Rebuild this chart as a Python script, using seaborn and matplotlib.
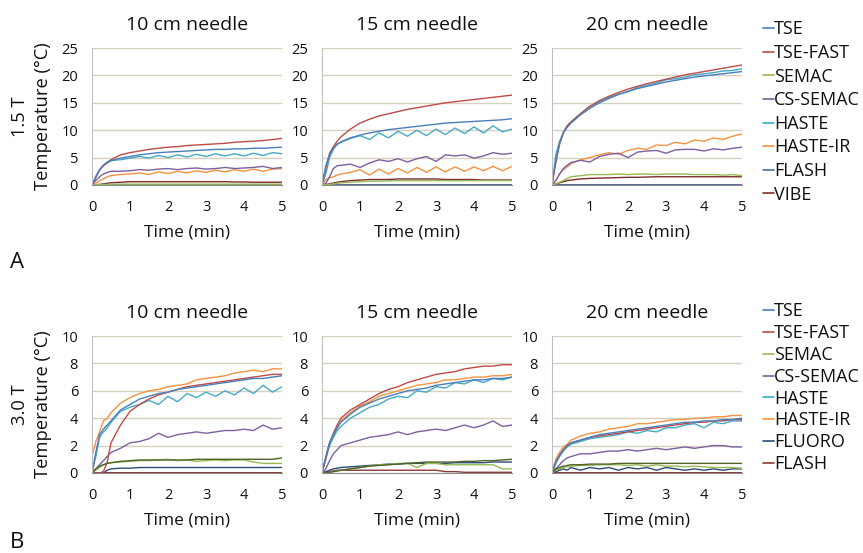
import numpy as np
import pandas as pd
import matplotlib
matplotlib.use("Agg")
import matplotlib.pyplot as plt
from matplotlib.lines import Line2D
import seaborn as sns

# ===============================
# DATA
# ===============================

time_min = [0, 0.1, 0.2, 0.3, 0.4, 0.5, 0.75, 1, 1.25, 1.5, 1.75, 2, 2.25, 2.5,
            2.75, 3, 3.25, 3.5, 3.75, 4, 4.25, 4.5, 4.75, 5]

needles = ["10 cm needle", "15 cm needle", "20 cm needle"]

seq_15T = ["TSE", "TSE-FAST", "SEMAC", "CS-SEMAC", "HASTE", "HASTE-IR", "FLASH", "VIBE"]
seq_30T = ["TSE", "TSE-FAST", "SEMAC", "CS-SEMAC", "HASTE", "HASTE-IR", "FLUORO", "FLASH"]

# 1.5 T, 10 cm
t15_10 = {
    "TSE":      [0, 1.5, 2.8, 3.6, 4.1, 4.4, 4.9, 5.2, 5.5, 5.7, 5.9, 6.0, 6.1, 6.2, 6.3, 6.4, 6.5, 6.5, 6.6, 6.6, 6.7, 6.7, 6.8, 6.9],
    "TSE-FAST": [0, 1.4, 2.7, 3.5, 4.0, 4.6, 5.5, 5.9, 6.2, 6.5, 6.7, 6.9, 7.0, 7.2, 7.3, 7.4, 7.5, 7.6, 7.8, 7.9, 8.0, 8.1, 8.3, 8.5],
    "SEMAC":    [0, 0.02, 0.05, 0.08, 0.1, 0.12, 0.15, 0.15, 0.15, 0.15, 0.15, 0.15, 0.15, 0.15, 0.15, 0.15, 0.15, 0.15, 0.15, 0.15, 0.15, 0.15, 0.15, 0.15],
    "CS-SEMAC": [0, 0.8, 1.5, 2.0, 2.3, 2.5, 2.5, 2.6, 2.8, 2.7, 2.9, 3.0, 2.8, 3.0, 3.1, 2.9, 3.0, 3.2, 3.0, 3.1, 3.2, 3.4, 3.0, 3.2],
    "HASTE":    [0, 1.5, 2.8, 3.6, 4.2, 4.5, 4.6, 4.9, 5.2, 4.9, 5.4, 5.0, 5.5, 5.1, 5.6, 5.2, 5.7, 5.3, 5.7, 5.3, 5.8, 5.4, 5.9, 5.7],
    "HASTE-IR": [0, 0.3, 0.8, 1.1, 1.5, 1.7, 1.9, 2.0, 2.2, 1.9, 2.4, 2.1, 2.5, 2.2, 2.6, 2.3, 2.7, 2.4, 2.8, 2.5, 2.9, 2.5, 2.9, 3.0],
    "FLASH":    [0, 0.05, 0.05, 0.05, 0.05, 0.05, 0.05, 0.05, 0.05, 0.05, 0.05, 0.05, 0.05, 0.05, 0.05, 0.05, 0.05, 0.05, 0.05, 0.05, 0.05, 0.05, 0.05, 0.05],
    "VIBE":     [0, 0.05, 0.1, 0.2, 0.3, 0.4, 0.5, 0.6, 0.6, 0.6, 0.6, 0.6, 0.6, 0.6, 0.6, 0.6, 0.6, 0.6, 0.55, 0.55, 0.5, 0.5, 0.5, 0.5],
}

# 1.5 T, 15 cm
t15_15 = {
    "TSE":      [0, 3.5, 5.5, 6.7, 7.4, 7.9, 8.6, 9.1, 9.5, 9.8, 10.1, 10.3, 10.5, 10.7, 10.9, 11.1, 11.3, 11.4, 11.5, 11.6, 11.7, 11.8, 11.9, 12.1],
    "TSE-FAST": [0, 3.0, 5.8, 7.0, 8.0, 8.8, 10.2, 11.3, 12.0, 12.6, 13.0, 13.4, 13.8, 14.1, 14.4, 14.7, 15.0, 15.2, 15.4, 15.6, 15.8, 16.0, 16.2, 16.4],
    "SEMAC":    [0, 0.05, 0.1, 0.2, 0.3, 0.4, 0.5, 0.6, 0.7, 0.7, 0.75, 0.8, 0.8, 0.8, 0.8, 0.8, 0.8, 0.8, 0.8, 0.8, 0.8, 0.8, 0.8, 0.8],
    "CS-SEMAC": [0, 0.3, 1.5, 3.0, 3.5, 3.6, 3.8, 3.2, 4.0, 4.6, 4.3, 4.8, 4.2, 4.8, 5.2, 4.3, 5.5, 5.3, 5.5, 4.9, 5.3, 5.9, 5.6, 5.8],
    "HASTE":    [0, 2.0, 5.0, 6.5, 7.5, 7.8, 8.5, 9.0, 8.3, 9.5, 8.6, 9.8, 8.9, 10.0, 9.0, 10.2, 9.2, 10.4, 9.4, 10.6, 9.5, 10.8, 9.7, 10.2],
    "HASTE-IR": [0, 1.0, 1.3, 1.5, 1.8, 2.0, 2.3, 2.8, 1.8, 2.9, 2.0, 3.0, 2.2, 3.2, 2.3, 3.3, 2.4, 3.3, 2.5, 3.3, 2.6, 3.4, 2.6, 3.4],
    "FLASH":    [0, 0.05, 0.05, 0.05, 0.05, 0.05, 0.05, 0.05, 0.05, 0.05, 0.05, 0.05, 0.05, 0.05, 0.05, 0.05, 0.05, 0.05, 0.05, 0.05, 0.05, 0.05, 0.05, 0.05],
    "VIBE":     [0, 0.1, 0.2, 0.35, 0.5, 0.6, 0.8, 0.9, 1.0, 1.0, 1.0, 1.1, 1.1, 1.1, 1.1, 1.1, 1.0, 1.0, 1.0, 1.0, 0.9, 0.9, 0.9, 0.9],
}

# 1.5 T, 20 cm
t15_20 = {
    "TSE":      [0, 4.5, 7.5, 9.5, 10.5, 11.3, 12.8, 14.0, 15.0, 15.8, 16.5, 17.1, 17.6, 18.0, 18.4, 18.8, 19.1, 19.4, 19.7, 19.9, 20.1, 20.3, 20.5, 20.7],
    "TSE-FAST": [0, 4.0, 7.5, 9.6, 10.8, 11.5, 13.0, 14.4, 15.4, 16.2, 16.9, 17.5, 18.0, 18.5, 18.9, 19.3, 19.7, 20.1, 20.4, 20.7, 21.0, 21.3, 21.6, 21.9],
    "SEMAC":    [0, 0.2, 0.5, 0.8, 1.2, 1.5, 1.7, 1.9, 1.9, 1.9, 2.0, 1.9, 2.0, 2.0, 1.9, 2.0, 2.0, 2.0, 1.9, 1.9, 1.9, 1.8, 1.9, 1.7],
    "CS-SEMAC": [0, 0.8, 2.0, 3.0, 3.6, 4.1, 4.5, 4.2, 5.2, 5.6, 5.8, 5.0, 6.0, 6.2, 6.3, 5.8, 6.4, 6.5, 6.5, 6.2, 6.6, 6.4, 6.7, 6.9],
    "HASTE":    [0, 5.5, 8.0, 9.5, 10.8, 11.5, 13.0, 14.3, 15.2, 16.0, 16.6, 17.0, 17.8, 18.2, 18.6, 19.2, 19.4, 19.7, 20.1, 20.3, 20.5, 20.8, 20.9, 21.2],
    "HASTE-IR": [0, 0.8, 2.0, 2.8, 3.3, 3.9, 4.6, 5.0, 5.5, 5.9, 5.6, 6.3, 6.7, 6.5, 7.3, 7.2, 7.8, 7.5, 8.2, 8.0, 8.6, 8.3, 8.9, 9.3],
    "FLASH":    [0, 0.05, 0.05, 0.05, 0.05, 0.05, 0.05, 0.05, 0.05, 0.05, 0.05, 0.05, 0.05, 0.05, 0.05, 0.05, 0.05, 0.05, 0.05, 0.05, 0.05, 0.05, 0.05, 0.05],
    "VIBE":     [0, 0.2, 0.4, 0.6, 0.8, 0.9, 1.1, 1.2, 1.25, 1.3, 1.35, 1.4, 1.4, 1.45, 1.5, 1.5, 1.5, 1.5, 1.5, 1.5, 1.5, 1.5, 1.5, 1.5],
}

# 3.0 T, 10 cm  (the dark green trace is not in the legend)
t30_10 = {
    "TSE":      [0, 1.5, 2.8, 3.2, 3.5, 3.8, 4.6, 5.0, 5.4, 5.6, 5.8, 5.9, 6.1, 6.2, 6.3, 6.4, 6.5, 6.6, 6.7, 6.8, 6.9, 6.9, 7.0, 7.1],
    "TSE-FAST": [0, 0, 0, 0.1, 0.8, 2.2, 3.5, 4.5, 5.0, 5.4, 5.7, 5.9, 6.1, 6.3, 6.4, 6.5, 6.6, 6.7, 6.8, 6.9, 7.0, 7.1, 7.2, 7.2],
    "SEMAC":    [0, 0.2, 0.4, 0.6, 0.7, 0.75, 0.8, 0.85, 0.9, 0.9, 0.95, 1.0, 0.9, 0.95, 0.85, 0.9, 0.95, 0.9, 0.95, 0.95, 0.8, 0.7, 0.7, 0.7],
    "CS-SEMAC": [0, 0.3, 0.6, 0.9, 1.2, 1.5, 1.8, 2.2, 2.3, 2.5, 2.9, 2.6, 2.8, 2.9, 3.0, 2.9, 3.0, 3.1, 3.1, 3.2, 3.1, 3.5, 3.2, 3.3],
    "HASTE":    [0, 1.2, 2.6, 3.0, 3.3, 3.7, 4.5, 4.8, 5.0, 5.3, 5.0, 5.6, 5.2, 5.8, 5.5, 5.9, 5.6, 6.0, 5.7, 6.2, 5.8, 6.4, 5.9, 6.3],
    "HASTE-IR": [1.2, 2.3, 3.0, 3.8, 4.0, 4.4, 5.1, 5.5, 5.8, 6.0, 6.1, 6.3, 6.4, 6.5, 6.8, 6.9, 7.0, 7.1, 7.3, 7.4, 7.5, 7.4, 7.6, 7.6],
    "FLUORO":   [0, 0, 0, 0, 0.2, 0.3, 0.35, 0.35, 0.4, 0.4, 0.4, 0.4, 0.4, 0.4, 0.4, 0.4, 0.4, 0.4, 0.4, 0.4, 0.4, 0.4, 0.4, 0.4],
    "FLASH":    [0, 0.02, 0.02, 0.02, 0.02, 0.02, 0.02, 0.02, 0.02, 0.02, 0.02, 0.02, 0.02, 0.02, 0.02, 0.02, 0.02, 0.02, 0.02, 0.02, 0.02, 0.02, 0.02, 0.02],
    "extra":    [0, 0.3, 0.5, 0.6, 0.7, 0.75, 0.85, 0.9, 0.95, 0.95, 0.95, 0.95, 0.95, 0.95, 1.0, 1.0, 1.0, 1.0, 1.0, 1.0, 1.0, 1.0, 1.0, 1.1],
}

# 3.0 T, 15 cm
t30_15 = {
    "TSE":      [0, 1.2, 2.2, 2.8, 3.3, 3.7, 4.3, 4.8, 5.1, 5.4, 5.6, 5.8, 6.0, 6.1, 6.2, 6.4, 6.5, 6.6, 6.7, 6.8, 6.8, 6.9, 6.9, 7.0],
    "TSE-FAST": [0, 1.1, 2.2, 2.9, 3.5, 4.0, 4.6, 5.0, 5.4, 5.8, 6.1, 6.3, 6.6, 6.8, 7.0, 7.2, 7.3, 7.4, 7.6, 7.7, 7.8, 7.8, 7.9, 7.9],
    "SEMAC":    [0, 0, 0.05, 0.1, 0.15, 0.2, 0.3, 0.4, 0.5, 0.6, 0.6, 0.7, 0.7, 0.4, 0.7, 0.7, 0.6, 0.6, 0.6, 0.6, 0.6, 0.6, 0.3, 0.3],
    "CS-SEMAC": [0, 0.3, 0.9, 1.4, 1.7, 2.0, 2.2, 2.4, 2.6, 2.7, 2.8, 3.0, 2.8, 3.0, 3.1, 3.2, 3.1, 3.3, 3.5, 3.3, 3.5, 3.8, 3.4, 3.5],
    "HASTE":    [0, 1.0, 2.0, 2.6, 3.1, 3.4, 4.0, 4.4, 4.8, 5.0, 5.4, 5.6, 5.5, 6.0, 5.9, 6.3, 6.2, 6.6, 6.5, 6.8, 6.6, 6.9, 6.8, 7.0],
    "HASTE-IR": [0, 1.1, 2.2, 2.7, 3.3, 3.8, 4.4, 4.9, 5.2, 5.6, 5.8, 6.0, 6.2, 6.4, 6.5, 6.6, 6.8, 6.8, 6.9, 7.0, 7.0, 7.1, 7.1, 7.2],
    "FLUORO":   [0, 0.1, 0.2, 0.3, 0.35, 0.4, 0.45, 0.5, 0.55, 0.6, 0.65, 0.65, 0.7, 0.7, 0.7, 0.7, 0.7, 0.75, 0.75, 0.75, 0.75, 0.8, 0.8, 0.8],
    "FLASH":    [0, 0.05, 0.1, 0.15, 0.2, 0.2, 0.2, 0.2, 0.2, 0.2, 0.2, 0.2, 0.2, 0.2, 0.2, 0.2, 0.1, 0.1, 0.05, 0.05, 0.05, 0.05, 0.05, 0.05],
    "extra":    [0, 0, 0.05, 0.1, 0.15, 0.2, 0.3, 0.4, 0.5, 0.55, 0.6, 0.65, 0.7, 0.75, 0.8, 0.8, 0.8, 0.8, 0.85, 0.85, 0.9, 0.9, 0.95, 1.0],
}

# 3.0 T, 20 cm
t30_20 = {
    "TSE":      [0, 0.8, 1.3, 1.7, 2.0, 2.2, 2.4, 2.6, 2.8, 2.9, 3.0, 3.1, 3.2, 3.3, 3.4, 3.5, 3.6, 3.7, 3.7, 3.8, 3.8, 3.9, 3.9, 4.0],
    "TSE-FAST": [0, 0.8, 1.3, 1.7, 2.0, 2.2, 2.4, 2.6, 2.7, 2.8, 2.9, 3.0, 3.1, 3.2, 3.3, 3.4, 3.5, 3.6, 3.7, 3.7, 3.8, 3.8, 3.9, 3.9],
    "SEMAC":    [0, 0.2, 0.3, 0.4, 0.45, 0.5, 0.55, 0.55, 0.6, 0.6, 0.6, 0.55, 0.6, 0.5, 0.6, 0.5, 0.5, 0.45, 0.5, 0.45, 0.4, 0.4, 0.4, 0.35],
    "CS-SEMAC": [0, 0.3, 0.6, 0.9, 1.1, 1.2, 1.4, 1.4, 1.5, 1.6, 1.6, 1.7, 1.6, 1.7, 1.8, 1.7, 1.8, 1.9, 1.8, 1.9, 2.0, 2.0, 1.9, 1.9],
    "HASTE":    [0, 0.7, 1.2, 1.6, 1.9, 2.1, 2.3, 2.5, 2.6, 2.7, 2.8, 3.0, 2.9, 3.1, 3.0, 3.3, 3.3, 3.5, 3.6, 3.3, 3.7, 3.6, 3.8, 3.8],
    "HASTE-IR": [0, 1.0, 1.5, 1.9, 2.1, 2.4, 2.7, 2.9, 3.0, 3.2, 3.3, 3.4, 3.6, 3.6, 3.7, 3.8, 3.9, 3.9, 4.0, 4.0, 4.1, 4.1, 4.2, 4.2],
    "FLUORO":   [0, 0.1, 0.2, 0.3, 0.2, 0.4, 0.2, 0.4, 0.3, 0.4, 0.2, 0.4, 0.3, 0.4, 0.2, 0.4, 0.3, 0.2, 0.3, 0.2, 0.3, 0.2, 0.3, 0.3],
    "FLASH":    [0, 0.02, 0.02, 0.02, 0.02, 0.02, 0.02, 0.02, 0.02, 0.02, 0.02, 0.02, 0.02, 0.02, 0.02, 0.02, 0.02, 0.02, 0.02, 0.02, 0.02, 0.02, 0.02, 0.02],
    "extra":    [0, 0.3, 0.4, 0.5, 0.55, 0.6, 0.6, 0.65, 0.65, 0.65, 0.7, 0.7, 0.7, 0.7, 0.7, 0.7, 0.7, 0.7, 0.7, 0.7, 0.7, 0.7, 0.7, 0.7],
}

colors_15T = {"TSE": "#4A7EBB", "TSE-FAST": "#BE4B48", "SEMAC": "#98B954",
              "CS-SEMAC": "#7D60A0", "HASTE": "#46AAC5", "HASTE-IR": "#F69240",
              "FLASH": "#4F6D9A", "VIBE": "#7B2C2A"}
colors_30T = {"TSE": "#4A7EBB", "TSE-FAST": "#BE4B48", "SEMAC": "#98B954",
              "CS-SEMAC": "#7D60A0", "HASTE": "#46AAC5", "HASTE-IR": "#F69240",
              "FLUORO": "#2C4D75", "FLASH": "#8B3A36", "extra": "#4F6228"}

# ===============================
# FIGURE
# ===============================

sns.set_style("white")
plt.rcParams['font.family'] = ['Open Sans', 'DejaVu Sans']
plt.rcParams['text.color'] = "#111111"
plt.rcParams['axes.labelcolor'] = "#111111"

fig = plt.figure(figsize=(8.63, 5.53), dpi=100)

col_left = [0.1066, 0.3731, 0.6396]
row_bottom = [0.6655, 0.1447]
w, h = 0.2202, 0.2477

rows = [
    (t15_10, t15_15, t15_20, seq_15T, colors_15T, 25, 5, "1.5 T", 20.5, 0.31),
    (t30_10, t30_15, t30_20, seq_30T, colors_30T, 10, 2, "3.0 T", 302.5, 0.21),
]

for r, (d1, d2, d3, seqs, cols, ymax, ystep, field, leg_y, leg_sp) in enumerate(rows):
    for c, (data, title) in enumerate(zip([d1, d2, d3], needles)):
        ax = fig.add_axes([col_left[c], row_bottom[r], w, h])
        long = pd.DataFrame([
            {"Time": t, "Temp": v, "Seq": name}
            for name, vals in data.items() for t, v in zip(time_min, vals)
        ])
        order = ["extra"] + seqs if "extra" in data else seqs
        sns.lineplot(data=long, x="Time", y="Temp", hue="Seq",
                     hue_order=order[::-1], palette=cols, linewidth=1.0,
                     legend=False, ax=ax)
        ax.set_xlim(0, 5)
        ax.set_ylim(0, ymax)
        ax.set_xticks(range(0, 6))
        ax.set_yticks(np.arange(0, ymax + 0.1, ystep))
        ax.yaxis.grid(True, color="#D6D0BC", linewidth=1.0)
        ax.set_axisbelow(True)
        for s in ["top", "right"]:
            ax.spines[s].set_visible(False)
        ax.spines["left"].set_color("#BFBFBF")
        ax.spines["bottom"].set_color("#8C8C8C")
        ax.tick_params(axis="x", direction="out", length=3.5, color="#8C8C8C",
                       labelsize=10.5, pad=7.5, labelcolor="#111111")
        ax.tick_params(axis="y", length=0, labelsize=10.5, pad=10,
                       labelcolor="#111111")
        ax.set_title(title, fontsize=14, pad=13)
        ax.set_xlabel("Time (min)", fontsize=12.5, labelpad=6.5)
        if c == 0:
            ax.set_ylabel(field + "\nTemperature (°C)", fontsize=13.2,
                          labelpad=7, linespacing=1.35)
        else:
            ax.set_ylabel("")

    handles = [Line2D([0], [0], color=cols[s], lw=1.2) for s in seqs]
    fig.legend(handles, seqs, loc="upper left",
               bbox_to_anchor=(763 / 863, 1 - leg_y / 553),
               frameon=False, fontsize=13, handlelength=0.6,
               handletextpad=0.0, labelspacing=leg_sp, borderaxespad=0,
               borderpad=0)

fig.text(0.012, 1 - 262 / 553, "A", fontsize=16, va="center", ha="left")
fig.text(0.012, 1 - 543 / 553, "B", fontsize=16, va="center", ha="left")

plt.savefig("out.png", dpi=100)
